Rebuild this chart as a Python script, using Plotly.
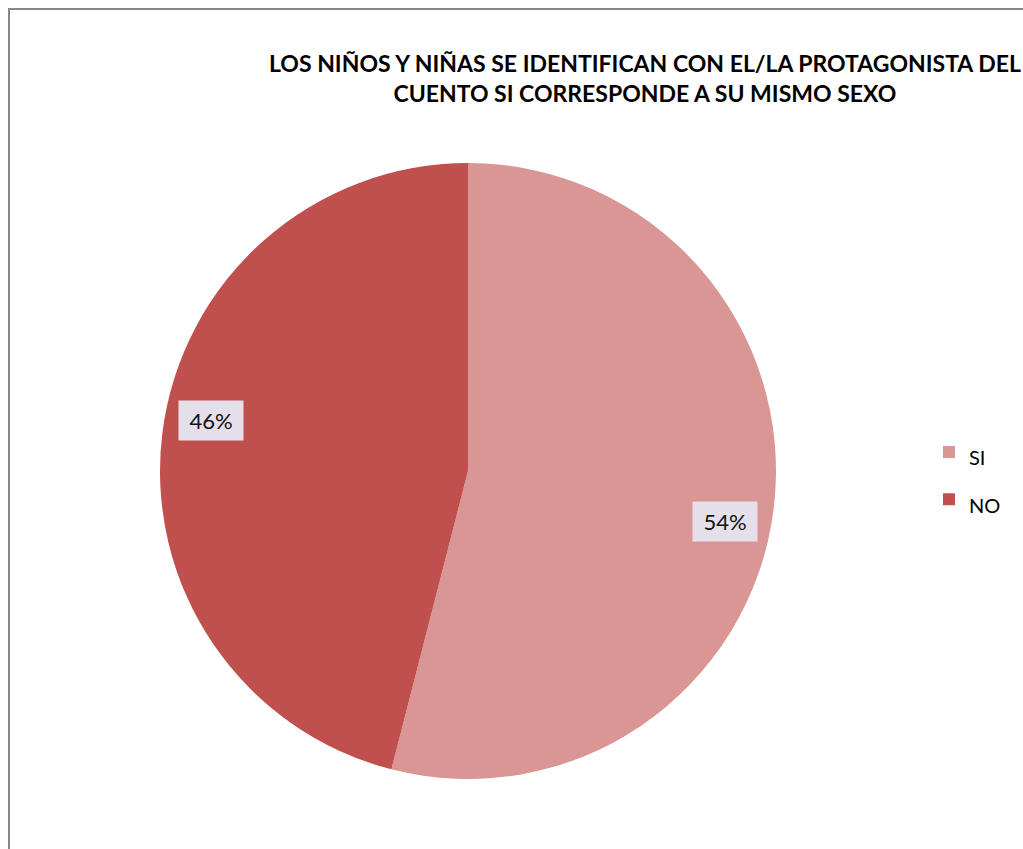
import math
import plotly.graph_objects as go

categories = ["SI", "NO"]
values = [54, 46]
colors = ["#D99694", "#C0504D"]
title_text = "LOS NIÑOS Y NIÑAS SE IDENTIFICAN CON EL/LA PROTAGONISTA DEL<br>CUENTO SI CORRESPONDE A SU MISMO SEXO"

W, H = 1023, 849
cx, cy, r = 468, 471, 308  # pixel centre / radius of pie
dom_x = [(cx - r) / W, (cx + r) / W]
dom_y = [(H - cy - r) / H, (H - cy + r) / H]

FONT = "Lato, Carlito, Calibri, sans-serif"

fig = go.Figure()
fig.add_trace(go.Pie(
    labels=[f"<span style='font-size:20px'>{c}</span>" for c in categories],
    values=values,
    marker=dict(colors=colors, line=dict(width=0)),
    sort=False,
    direction="clockwise",
    rotation=0,
    textinfo="none",
    hoverinfo="label+percent",
    domain=dict(x=dom_x, y=dom_y),
))

# data labels positioned from the values
total = sum(values)
start = 0.0
annotations = []
for v in values:
    frac = v / total
    mid = (start + frac / 2) * 2 * math.pi + math.radians(4)
    start += frac
    px = cx + 0.85 * r * math.sin(mid)
    py = cy - 0.85 * r * math.cos(mid)
    annotations.append(dict(
        x=px / W, y=1 - py / H, xref="paper", yref="paper",
        text=f"{round(frac * 100)}%", showarrow=False,
        font=dict(family=FONT, size=22, color="#111111"),
        bgcolor="#E5DFEC", width=62, height=37,
        xanchor="center", yanchor="middle",
    ))

annotations.append(dict(
    x=645 / W, y=1 - 78 / H, xref="paper", yref="paper",
    text=f"<b>{title_text}</b>", showarrow=False,
    font=dict(family=FONT, size=23, color="#000000"),
    xanchor="center", yanchor="middle", align="center",
))

fig.update_layout(
    width=W, height=H,
    margin=dict(l=0, r=0, t=0, b=0),
    paper_bgcolor="white",
    plot_bgcolor="white",
    showlegend=True,
    legend=dict(
        x=929 / W, y=1 - 476 / H, xanchor="left", yanchor="middle",
        font=dict(family=FONT, size=34, color="#000000"),
        bgcolor="rgba(0,0,0,0)",
    ),
    annotations=annotations,
    shapes=[dict(
        type="rect", xref="paper", yref="paper",
        x0=9 / W, x1=1.05, y0=-0.05, y1=1 - 9 / H,
        line=dict(color="#878787", width=2), fillcolor="rgba(0,0,0,0)",
    )],
)

fig.write_html("out.html", config={"displayModeBar": False},
               post_script="document.body.style.margin='0';")
